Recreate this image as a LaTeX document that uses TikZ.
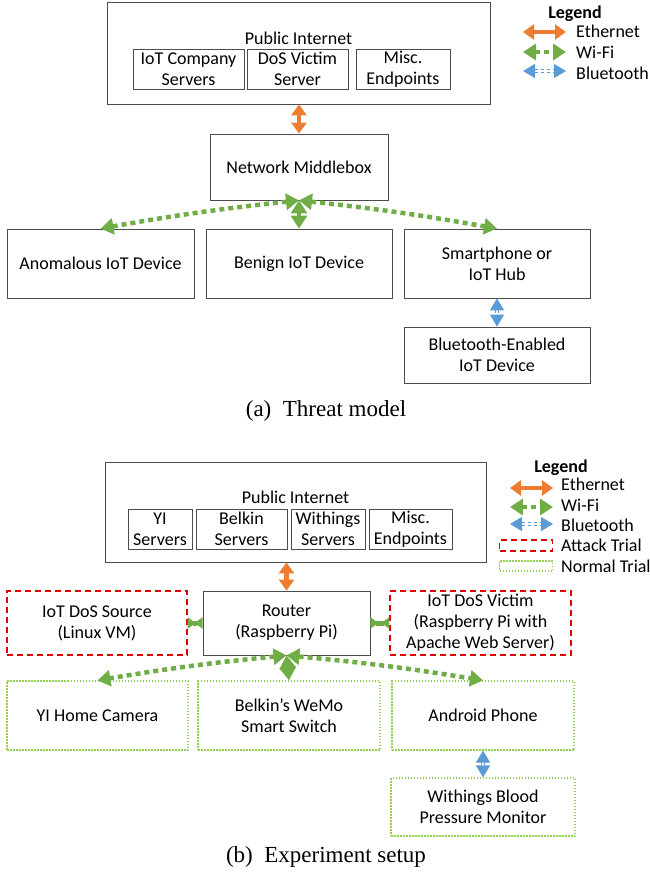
\documentclass[tikz,border=0pt]{standalone}
\usepackage{fontspec}
\setmainfont{Carlito}
\newfontfamily\capfont{Liberation Serif}
\usetikzlibrary{arrows.meta}
\definecolor{ethorange}{HTML}{ED7D31}
\definecolor{wifigreen}{HTML}{70AD47}
\definecolor{btblue}{HTML}{5B9BD5}
\definecolor{attackred}{HTML}{E00000}
\definecolor{normalgreen}{HTML}{92D050}
\begin{document}
\begin{tikzpicture}[x=1pt,y=-1pt,font=\fontsize{18}{21}\selectfont,
	box/.style={draw=black!70,line width=0.8pt,align=center,inner sep=0pt},
	attack/.style={box,draw=attackred,line width=1.4pt,dash pattern=on 6pt off 4pt},
	normal/.style={box,draw=normalgreen,line width=1.2pt,dash pattern=on 1.5pt off 1.5pt},
	ether/.style={draw=ethorange,line width=4.5pt,{Triangle[width=15pt,length=11pt]}-{Triangle[width=15pt,length=11pt]}},
	wifi/.style={draw=wifigreen,line width=4.5pt,dash pattern=on 5pt off 4pt,{Triangle[width=16pt,length=13pt]}-{Triangle[width=16pt,length=13pt]}},
	wifishort/.style={draw=wifigreen,line width=5pt,{Triangle[reversed,width=11pt,length=8pt]}-{Triangle[reversed,width=11pt,length=8pt]}},
	bluet/.style={draw=btblue,double=white,double distance=1.2pt,line width=1pt,dash pattern=on 3pt off 3pt,{Triangle[width=14pt,length=12pt]}-{Triangle[width=14pt,length=12pt]}},
	legtitle/.style={font=\bfseries\fontsize{18}{21}\selectfont},
	legtext/.style={anchor=west,inner sep=0pt},
	capt/.style={font=\capfont\fontsize{23}{27}\selectfont}]
	\useasboundingbox (0,0) rectangle (649,877);
	% (a) threat model
	\node[box,minimum width=383,minimum height=102] (inet) at (298.5,53) {};
	\node (inetlbl) at (298.5,38) {Public Internet};
	\node[box,minimum width=111,minimum height=40] (srva) at (188.5,69) {IoT Company\\Servers};
	\node[box,minimum width=101,minimum height=40] (srvb) at (297.5,69) {DoS Victim\\Server};
	\node[box,minimum width=94,minimum height=40] (srvc) at (403,69) {Misc.\\Endpoints};
	\node[box,minimum width=178,minimum height=66] (mbox) at (299,167) {Network Middlebox};
	\node[box,minimum width=187,minimum height=69] (anom) at (100.5,263.5) {Anomalous IoT Device};
	\node[box,minimum width=186,minimum height=69] (benign) at (299,263.5) {Benign IoT Device};
	\node[box,minimum width=186,minimum height=69] (phone) at (497,263.5) {Smartphone or\\IoT Hub};
	\node[box,minimum width=186,minimum height=56] (btdev) at (497,355) {Bluetooth-Enabled\\IoT Device};
	\draw[ether] (mbox.north) -- (mbox.north |- inet.south);
	\draw[wifi] (mbox.south) to[bend right=2] (anom.north);
	\draw[wifi] (mbox.south) -- (benign.north);
	\draw[wifi] (mbox.south) to[bend left=2] (phone.north);
	\draw[bluet] (phone.south) -- (btdev.north);
	\node[legtitle] (lega) at (575,14) {Legend};
	\coordinate (eal) at (523,32); \coordinate (ear) at (566,32);
	\coordinate (wal) at (523,52); \coordinate (war) at (566,52);
	\coordinate (bal) at (523,71); \coordinate (bar) at (566,71);
	\draw[ether] (eal) -- (ear);
	\draw[wifi] (wal) -- (war);
	\draw[bluet] (bal) -- (bar);
	\node[legtext] (etha) at (576,31) {Ethernet};
	\node[legtext] (wifia) at (576,52) {Wi-Fi};
	\node[legtext] (blua) at (576,73) {Bluetooth};
	\node[capt] (capa) at (326,411) {(a)~~Threat model};
	% (b) experiment setup
	\node[box,minimum width=381,minimum height=100] (inetb) at (295.5,512) {};
	\node (inetblbl) at (295.5,497) {Public Internet};
	\node[box,minimum width=64,minimum height=40] (yisrv) at (160,529) {YI\\Servers};
	\node[box,minimum width=91,minimum height=40] (belsrv) at (241.5,529) {Belkin\\Servers};
	\node[box,minimum width=74,minimum height=40] (witsrv) at (328,529) {Withings\\Servers};
	\node[box,minimum width=83,minimum height=40] (miscsrv) at (410.5,529) {Misc.\\Endpoints};
	\node[box,minimum width=167,minimum height=64] (router) at (286.5,623) {Router\\(Raspberry Pi)};
	\node[attack,minimum width=180,minimum height=64] (dossrc) at (97,623) {IoT DoS Source\\(Linux VM)};
	\node[attack,minimum width=181,minimum height=64] (dosvic) at (480.5,623) {IoT DoS Victim\\(Raspberry Pi with\\Apache Web Server)};
	\node[normal,minimum width=181,minimum height=69] (yicam) at (97.5,715.5) {YI Home Camera};
	\node[normal,minimum width=182,minimum height=69] (wemo) at (289,715.5) {Belkin's WeMo\\Smart Switch};
	\node[normal,minimum width=182,minimum height=69] (android) at (483,715.5) {Android Phone};
	\node[normal,minimum width=184,minimum height=58] (withings) at (483,807) {Withings Blood\\Pressure Monitor};
	\draw[ether] (router.north) -- (router.north |- inetb.south);
	\draw[wifishort] (dossrc.east) -- (router.west);
	\draw[wifishort] (router.east) -- (dosvic.west);
	\draw[wifi] (router.south) to[bend right=2] (yicam.north);
	\draw[wifi] (router.south) -- (wemo.north);
	\draw[wifi] (router.south) to[bend left=2] (android.north);
	\draw[bluet] (android.south) -- (withings.north);
	\node[legtitle] (legb) at (561,468) {Legend};
	\coordinate (ebl) at (510,488); \coordinate (ebr) at (553,488);
	\coordinate (wbl) at (510,507); \coordinate (wbr) at (553,507);
	\coordinate (bbl) at (510,524); \coordinate (bbr) at (553,524);
	\draw[ether] (ebl) -- (ebr);
	\draw[wifi] (wbl) -- (wbr);
	\draw[bluet] (bbl) -- (bbr);
	\node[attack,minimum width=53,minimum height=11] (atk) at (526,545.5) {};
	\node[normal,minimum width=53,minimum height=10] (nrm) at (526,566) {};
	\node[legtext] (ethb) at (561,484) {Ethernet};
	\node[legtext] (wifib) at (561,505) {Wi-Fi};
	\node[legtext] (blub) at (561,525) {Bluetooth};
	\node[legtext] (atkb) at (561,545) {Attack Trial};
	\node[legtext] (nrmb) at (561,566) {Normal Trial};
	\node[capt] (capb) at (326,857) {(b)~~Experiment setup};
\end{tikzpicture}
\end{document}
